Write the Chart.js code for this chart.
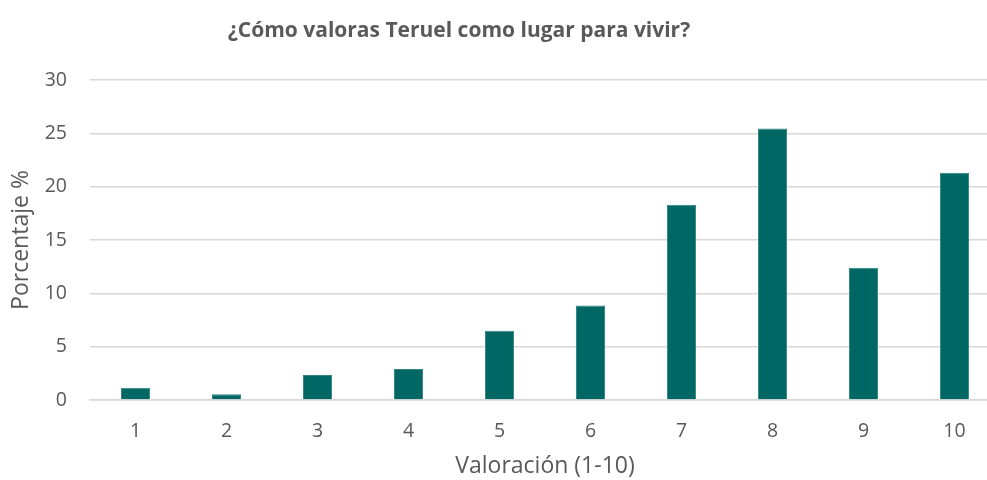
<!DOCTYPE html>
<html>
<head>
<meta charset="utf-8">
<script src="https://cdn.jsdelivr.net/npm/chart.js@4"></script>
<style>
  html, body { margin: 0; padding: 0; background: #fff; overflow: hidden; }
  #wrap { position: relative; width: 1000px; height: 480px; }
  #title {
    position: absolute; left: 0; top: 15px; width: 918px;
    text-align: center; font: bold 21px "Open Sans", sans-serif; color: #595959;
  }
</style>
</head>
<body>
<div id="wrap">
  <canvas id="ratingChart" width="1000" height="480"></canvas>
  <div id="title">¿Cómo valoras Teruel como lugar para vivir?</div>
</div>
<script>
/* Valoración de Teruel - bar chart */

const categories = ["1", "2", "3", "4", "5", "6", "7", "8", "9", "10"];

const percentages = [1.15, 0.55, 2.35, 2.9, 6.5, 8.85, 18.3, 25.45, 12.4, 21.3];

const yTicks = [0, 5, 10, 15, 20, 25, 30];

const textColor = "#595959";
const gridColor = "#d9d9d9";

new Chart(document.getElementById("ratingChart"), {

    type: "bar",

    data: {
        labels: categories,
        datasets: [{
            data: percentages,
            backgroundColor: "#006764",
            borderColor: "#2f8582",
            borderWidth: 1,
            categoryPercentage: 1,
            barPercentage: 0.32
        }]
    },

    options: {
        responsive: false,
        animation: false,
        layout: { padding: { top: 80, right: 0, bottom: 0, left: 0 } },
        plugins: {
            legend: { display: false },
            tooltip: { enabled: false }
        },
        scales: {
            x: {
                grid: { display: false },
                border: { color: gridColor, width: 1.5 },
                ticks: {
                    color: textColor,
                    font: { family: "Open Sans", size: 19.5 },
                    padding: 12
                },
                title: {
                    display: true,
                    text: "Valoración (1-10)",
                    color: textColor,
                    font: { family: "Open Sans", size: 23 },
                    padding: { top: 0, bottom: 0 }
                },
                afterFit: (scale) => { scale.height = 80; }
            },
            y: {
                min: 0,
                max: 30,
                afterBuildTicks: (scale) => {
                    scale.ticks = yTicks.map(v => ({ value: v }));
                },
                grid: { color: gridColor, lineWidth: 1.5, drawTicks: false },
                border: { display: false },
                ticks: {
                    color: textColor,
                    font: { family: "Open Sans", size: 19.5 },
                    padding: 23
                },
                title: {
                    display: true,
                    text: "Porcentaje %",
                    color: textColor,
                    font: { family: "Open Sans", size: 23 },
                    padding: { top: 8, bottom: 0 }
                },
                afterFit: (scale) => { scale.width = 90; }
            }
        }
    }

});
</script>
</body>
</html>
